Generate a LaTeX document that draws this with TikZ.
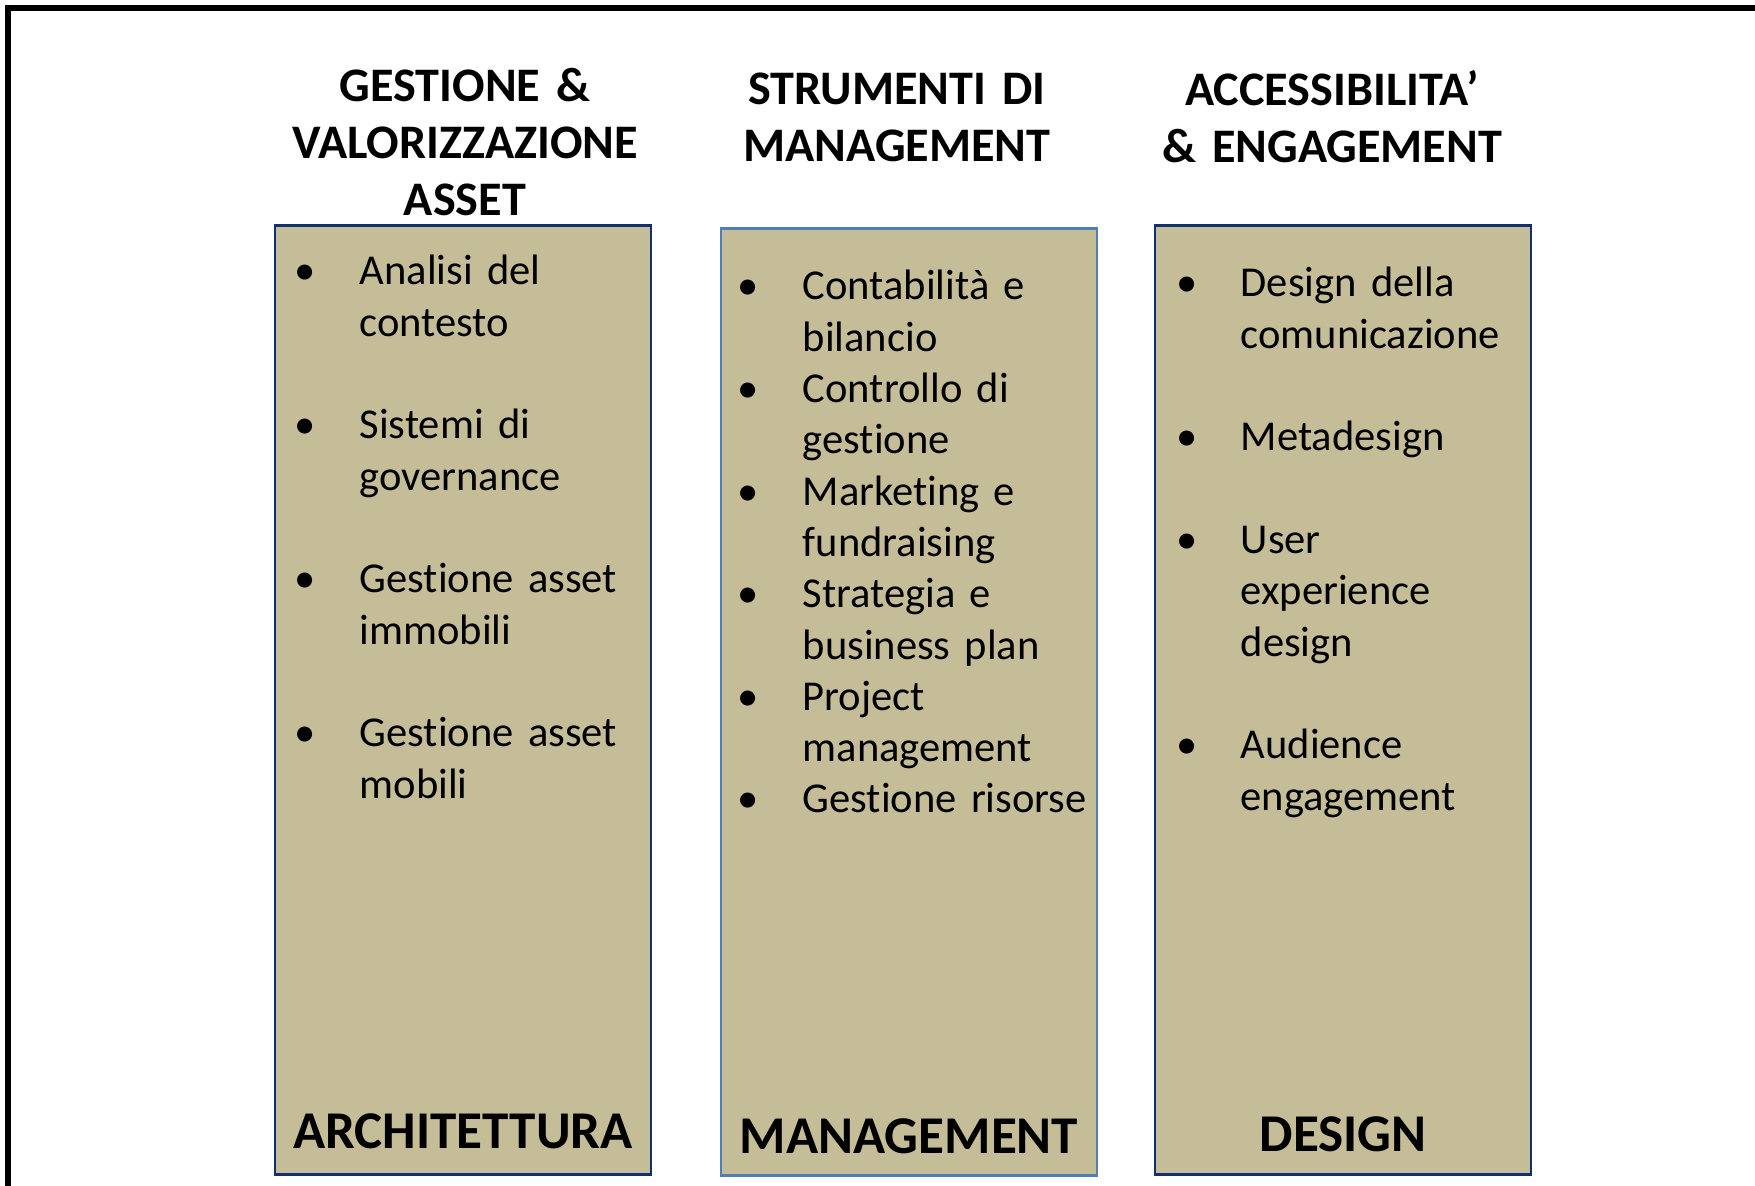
\documentclass[tikz,border=0pt]{standalone}
\usepackage{fontspec}
\setmainfont{Carlito}[Ligatures=NoCommon, WordSpace=0.85]
\definecolor{sand}{HTML}{C4BD97}
\definecolor{navy}{HTML}{11306E}
\definecolor{steel}{HTML}{4F7FB5}
\tikzset{
    frame/.style = {line width=1.7pt, draw=black},
    column/.style = {rectangle, line width=0.7pt, draw=navy, fill=sand, minimum width=3.76cm, minimum height=9.48cm},
    heading/.style = {text width=4cm, align=center, anchor=base, inner sep=0pt, font=\bfseries\fontsize{13.7}{16.1}\selectfont},
    footer/.style = {anchor=base, inner sep=0pt, font=\bfseries\fontsize{15.1}{18}\selectfont},
    bul/.style = {anchor=base, inner sep=0pt, font=\fontsize{12.1}{14.6}\selectfont},
    entry/.style = {anchor=base west, inner sep=0pt, text width=3.2cm, align=left, font=\fontsize{12.1}{14.6}\selectfont}
}
\begin{document}
\begin{tikzpicture}[x=0.01cm, y=-0.01cm]
  \useasboundingbox (0,0) rectangle (1755,1186);
  \clip (0,0) rectangle (1755,1186);
  \draw[frame] (8,8) rectangle (1800,1240);

  % columns
  \node[column] (arch) at (463,700) {};
  \node[column, draw=steel, minimum height=9.46cm] (mgmt) at (909,702) {};
  \node[column] (design) at (1343,700) {};

  % headings
  \node[heading] (harch) at (465,102) {GESTIONE \&\\VALORIZZAZIONE\\ASSET};
  \node[heading] (hmgmt) at (897,105) {STRUMENTI DI\\MANAGEMENT};
  \node[heading] (hdesign) at (1332,106) {ACCESSIBILITA’\\\& ENGAGEMENT};

  % architettura
  \node[bul] (a1b) at (305,285.0) {\textbullet};
  \node[entry] (a1) at (359,285.0) {Analisi del\\contesto};
  \node[bul] (a2b) at (305,438.9) {\textbullet};
  \node[entry] (a2) at (359,438.9) {Sistemi di\\governance};
  \node[bul] (a3b) at (305,592.8) {\textbullet};
  \node[entry] (a3) at (359,592.8) {Gestione asset\\immobili};
  \node[bul] (a4b) at (305,746.7) {\textbullet};
  \node[entry] (a4) at (359,746.7) {Gestione asset\\mobili};

  % management
  \node[bul] (m1b) at (748,300.0) {\textbullet};
  \node[entry] (m1) at (802,300.0) {Contabilità e\\bilancio};
  \node[bul] (m2b) at (748,402.6) {\textbullet};
  \node[entry] (m2) at (802,402.6) {Controllo di\\gestione};
  \node[bul] (m3b) at (748,505.2) {\textbullet};
  \node[entry] (m3) at (802,505.2) {Marketing e\\fundraising};
  \node[bul] (m4b) at (748,607.8) {\textbullet};
  \node[entry] (m4) at (802,607.8) {Strategia e\\business plan};
  \node[bul] (m5b) at (748,710.4) {\textbullet};
  \node[entry] (m5) at (802,710.4) {Project\\management};
  \node[bul] (m6b) at (748,813.0) {\textbullet};
  \node[entry] (m6) at (802,813.0) {Gestione risorse};

  % design
  \node[bul] (d1b) at (1187,297.0) {\textbullet};
  \node[entry] (d1) at (1240,297.0) {Design della\\comunicazione};
  \node[bul] (d2b) at (1187,450.9) {\textbullet};
  \node[entry] (d2) at (1240,450.9) {Metadesign};
  \node[bul] (d3b) at (1187,553.5) {\textbullet};
  \node[entry] (d3) at (1240,553.5) {User\\experience\\design};
  \node[bul] (d4b) at (1187,758.7) {\textbullet};
  \node[entry] (d4) at (1240,758.7) {Audience\\engagement};

  % footers
  \node[footer] (farch) at (463,1148) {ARCHITETTURA};
  \node[footer] (fmgmt) at (909,1153) {MANAGEMENT};
  \node[footer] (fdesign) at (1343,1151) {DESIGN};
\end{tikzpicture}
\end{document}
